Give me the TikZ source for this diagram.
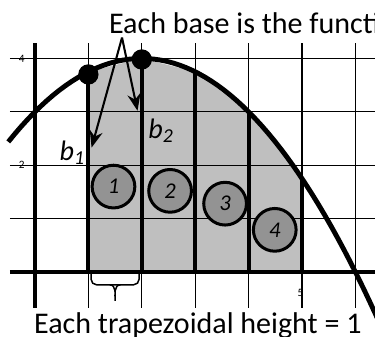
\documentclass[tikz,border=0pt]{standalone}
\usepackage{fontspec}
\setmainfont{Carlito}
\usetikzlibrary{arrows.meta, positioning}

\begin{document}
\begin{tikzpicture}[
    gridline/.style={line width=0.7pt},
    axisline/.style={line width=2.2pt},
    side/.style={line width=2.2pt},
    curve/.style={line width=2.6pt},
    num/.style={circle, draw, line width=1.6pt, fill=gray!85, minimum size=0.8cm,
      inner sep=0pt, font=\fontsize{12}{12}\selectfont\itshape},
    tick/.style={font=\fontsize{6}{6}\selectfont, inner sep=0pt},
    dot/.style={circle, fill=black, minimum size=0.38cm, inner sep=0pt},
    ptr/.style={-{Stealth[length=9pt, width=7pt]}, line width=1.1pt},
    lbl/.style={font=\fontsize{16}{18}\selectfont, inner sep=0pt},
    declare function={f(\x)=3+\x-\x*\x/4;},
  ]
  \clip (-0.655,-1.2) rectangle (6.367,5.094);

  % trapezoids
  \fill[gray!50] (1,0) -- (1,{f(1)}) -- (2,{f(2)}) -- (3,{f(3)}) -- (4,{f(4)})
    -- (5,{f(5)}) -- (5,0) -- cycle;

  % grid
  \foreach \i in {1,...,6}
    \draw[gridline] (\i,-0.67) -- (\i,4.29);
  \foreach \j in {1,...,4}
    \draw[gridline] (-0.47,\j) -- (6.5,\j);
  \draw[axisline] (0,-0.67) -- (0,4.29);
  \draw[axisline] (-0.47,0) -- (6.5,0);

  \node[tick] (t4) at (-0.25,4) {4};
  \node[tick] (t2) at (-0.25,2) {2};
  \node[tick] (t5) at (4.97,-0.39) {5};

  \foreach \i in {1,...,5}
    \draw[side] (\i,0) -- (\i,{f(\i)});

  \draw[curve, domain=-0.5:6.5, samples=60] plot (\x,{f(\x)});

  \node[dot] (p1) at (1,{f(1)-0.05}) {};
  \node[dot] (p2) at (2,{f(2)-0.02}) {};

  \node[num] (c1) at (1.47,1.6) {1};
  \node[num] (c2) at (2.53,1.52) {2};
  \node[num] (c3) at (3.56,1.28) {3};
  \node[num] (c4) at (4.49,0.79) {4};

  % labels
  \node[lbl, anchor=base west] (top) at (1.38,4.47) {Each base is the function};
  \node[lbl, anchor=base] (bottom) at (3.05,-1.16) {Each trapezoidal height = 1};
  \coordinate (apex) at (1.63,4.39);
  \coordinate (tip1) at (1.06,2.33);
  \coordinate (tip2) at (1.92,3.02);
  \draw[ptr] (apex) -- (tip1);
  \draw[ptr] (apex) -- (tip2);

  \node[lbl, font=\fontsize{15}{16}\selectfont\itshape] (b1) at (0.7,2.24) {b\textsubscript{1}};
  \node[lbl, font=\fontsize{15}{16}\selectfont\itshape] (b2) at (2.36,2.65) {b\textsubscript{2}};

  % brace under the first trapezoid
  \coordinate (br1) at (1.05,-0.03);
  \coordinate (br2) at (1.95,-0.03);
  \coordinate (brtip) at (1.5,-0.54);
  \draw[line width=0.8pt, rounded corners=3pt] (br1) |- (1.5,-0.24) -| (br2);
  \draw[line width=0.8pt] (1.4,-0.24) to[out=0, in=90] (brtip)
    to[out=90, in=180] (1.6,-0.24);
\end{tikzpicture}
\end{document}
